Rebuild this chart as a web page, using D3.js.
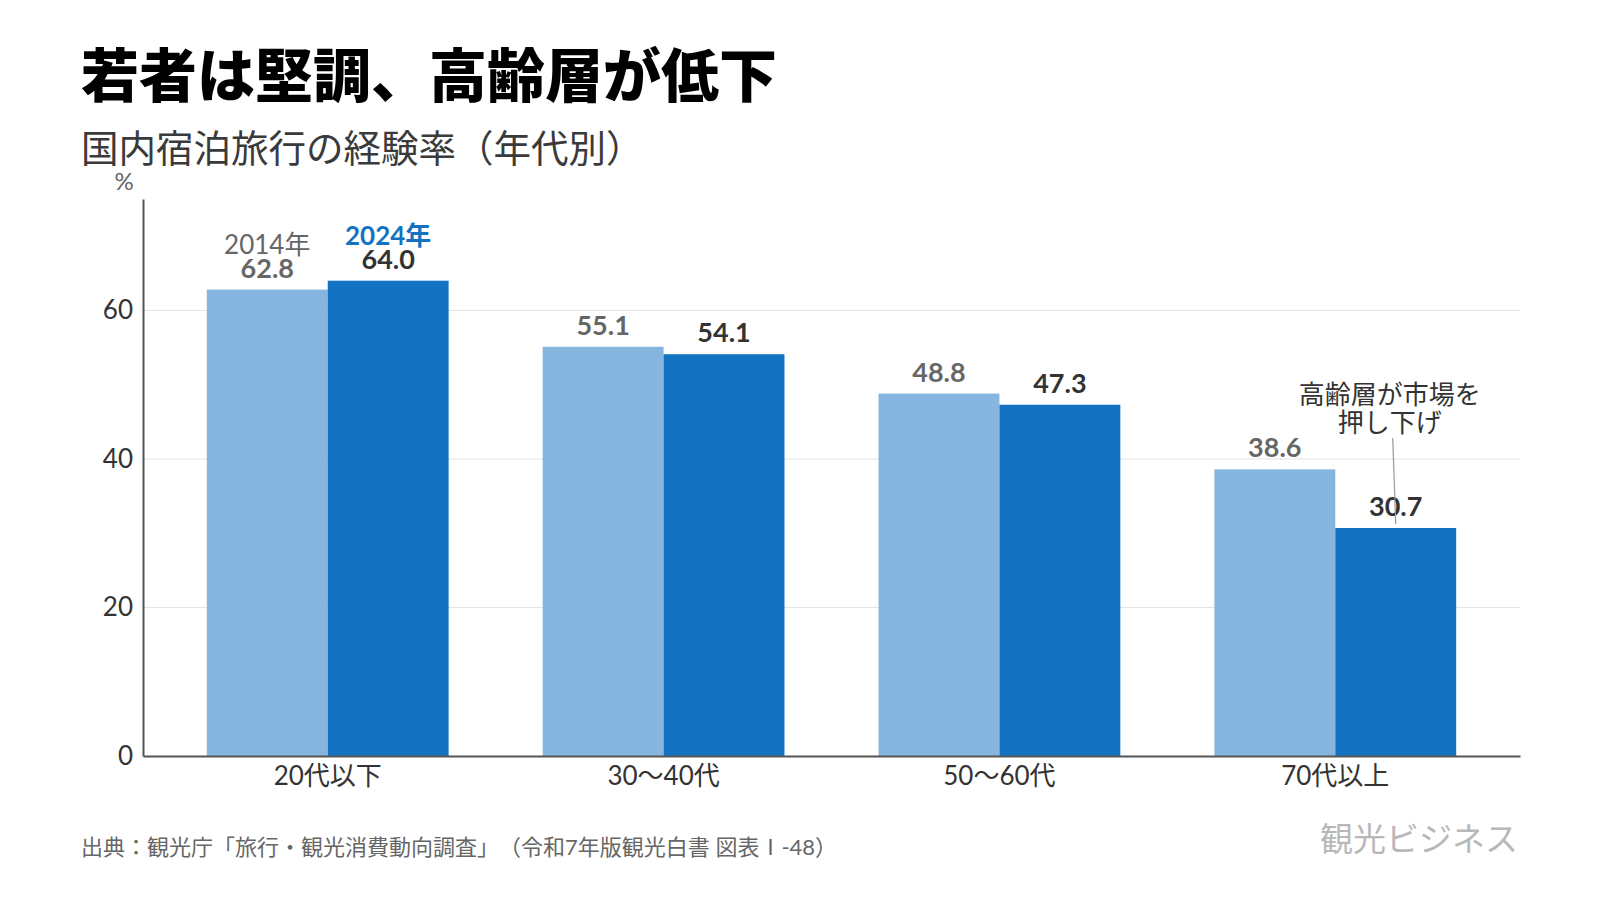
<!DOCTYPE html>
<html lang="ja">
<head>
<meta charset="utf-8">
<script src="https://cdn.jsdelivr.net/npm/d3@7"></script>
<style>
  html, body { margin: 0; padding: 0; background: #fff; }
  svg text { font-family: Lato, "Noto Sans CJK JP", sans-serif; text-spacing-trim: space-all; }
</style>
</head>
<body>
<div id="chart"></div>
<script>
// 年代別の国内宿泊旅行の経験率（%）
const categories = ["20代以下", "30〜40代", "50〜60代", "70代以上"];
const series = ["2014年", "2024年"];
const values2014 = [62.8, 55.1, 48.8, 38.6];
const values2024 = [64.0, 54.1, 47.3, 30.7];
const yTicks = [0, 20, 40, 60];

const colors = { "2014年": "#86b5df", "2024年": "#1373c2" };
const labelColors = { "2014年": "#666666", "2024年": "#333333" };

const width = 1600, height = 900;
const margin = { top: 199, right: 80, bottom: 144, left: 143 };

const svg = d3.select("#chart").append("svg")
  .attr("width", width)
  .attr("height", height);

svg.append("rect").attr("width", width).attr("height", height).attr("fill", "#fff");

// タイトル
svg.append("text")
  .attr("x", 81).attr("y", 97)
  .style("font-family", "'Noto Sans CJK JP', sans-serif")
  .style("font-size", "58px").style("font-weight", 900)
  .attr("fill", "#000")
  .text("若者は堅調、高齢層が低下");

svg.append("text")
  .attr("x", 81).attr("y", 162)
  .style("font-family", "'Noto Sans CJK JP', sans-serif")
  .style("font-size", "37.5px")
  .attr("fill", "#3a3a3a")
  .text("国内宿泊旅行の経験率（年代別）");

const data = [];
categories.forEach((c, i) => {
  data.push({ cat: c, year: series[0], value: values2014[i] });
  data.push({ cat: c, year: series[1], value: values2024[i] });
});

const x = d3.scaleBand()
  .domain(categories)
  .range([margin.left, width - margin.right])
  .paddingInner(0.28)
  .paddingOuter(0.19);

const xSub = d3.scaleBand().domain(series).range([0, x.bandwidth()]);

const y = d3.scaleLinear().domain([0, 75]).range([height - margin.bottom, margin.top]);

// グリッド線
svg.append("g")
  .selectAll("line")
  .data(yTicks.filter(d => d > 0))
  .join("line")
  .attr("x1", margin.left).attr("x2", width - margin.right)
  .attr("y1", d => y(d)).attr("y2", d => y(d))
  .attr("stroke", "#e3e3e3").attr("stroke-width", 1);

// y軸
const yAxis = svg.append("g")
  .attr("transform", `translate(${margin.left},0)`)
  .call(d3.axisLeft(y).tickValues(yTicks).tickSize(0).tickPadding(10));
yAxis.select(".domain").attr("stroke", "#555").attr("stroke-width", 2);
yAxis.selectAll("text")
  .style("font-size", "26px").attr("fill", "#333");

svg.append("text")
  .attr("x", 124).attr("y", 190)
  .attr("text-anchor", "middle")
  .style("font-size", "24px").attr("fill", "#666")
  .text("%");

// 棒
svg.append("g")
  .selectAll("rect")
  .data(data)
  .join("rect")
  .attr("x", d => x(d.cat) + xSub(d.year))
  .attr("y", d => y(d.value))
  .attr("width", xSub.bandwidth())
  .attr("height", d => y(0) - y(d.value))
  .attr("fill", d => colors[d.year]);

// 数値ラベル
svg.append("g")
  .selectAll("text")
  .data(data)
  .join("text")
  .attr("x", d => x(d.cat) + xSub(d.year) + xSub.bandwidth() / 2)
  .attr("y", d => y(d.value) - 12)
  .attr("text-anchor", "middle")
  .style("font-size", "27px").style("font-weight", 700)
  .attr("fill", d => labelColors[d.year])
  .text(d => d3.format(".1f")(d.value));

// 凡例（最初のグループの上）
const first = data.filter(d => d.cat === categories[0]);
svg.append("g")
  .selectAll("text")
  .data(first)
  .join("text")
  .attr("x", d => x(d.cat) + xSub(d.year) + xSub.bandwidth() / 2)
  .attr("y", d => y(d.value) - 36)
  .attr("text-anchor", "middle")
  .style("font-size", "26px")
  .style("font-weight", d => d.year === "2024年" ? 700 : 400)
  .attr("fill", d => d.year === "2024年" ? "#1373c2" : "#666")
  .text(d => d.year);

// x軸
const xAxis = svg.append("g")
  .attr("transform", `translate(0,${y(0)})`)
  .call(d3.axisBottom(x).tickSize(0).tickPadding(11).tickSizeOuter(0));
xAxis.select(".domain").attr("stroke", "#555").attr("stroke-width", 2);
xAxis.selectAll("text")
  .style("font-size", "26px").attr("fill", "#333");

// 注釈
const last = data[data.length - 1];
const ax = x(last.cat) + xSub(last.year) + xSub.bandwidth() / 2;
svg.append("line")
  .attr("x1", ax - 3).attr("y1", 438)
  .attr("x2", ax).attr("y2", y(last.value) - 4)
  .attr("stroke", "#999").attr("stroke-width", 1.2);
const note = svg.append("text")
  .attr("text-anchor", "middle")
  .style("font-family", "'Noto Sans CJK JP', sans-serif")
  .style("font-size", "26px").attr("fill", "#333");
note.append("tspan").attr("x", ax - 6).attr("y", 404).text("高齢層が市場を");
note.append("tspan").attr("x", ax - 6).attr("y", 432).text("押し下げ");

// 出典
svg.append("text")
  .attr("x", 81).attr("y", 855)
  .style("font-size", "22px").attr("fill", "#666")
  .text("出典：観光庁「旅行・観光消費動向調査」（令和7年版観光白書 図表Ⅰ-48）");

svg.append("text")
  .attr("x", width - 82).attr("y", 851)
  .attr("text-anchor", "end")
  .style("font-family", "'Noto Sans CJK JP', sans-serif")
  .style("font-size", "33px").attr("fill", "#b8b8b8")
  .text("観光ビジネス");
</script>
</body>
</html>
